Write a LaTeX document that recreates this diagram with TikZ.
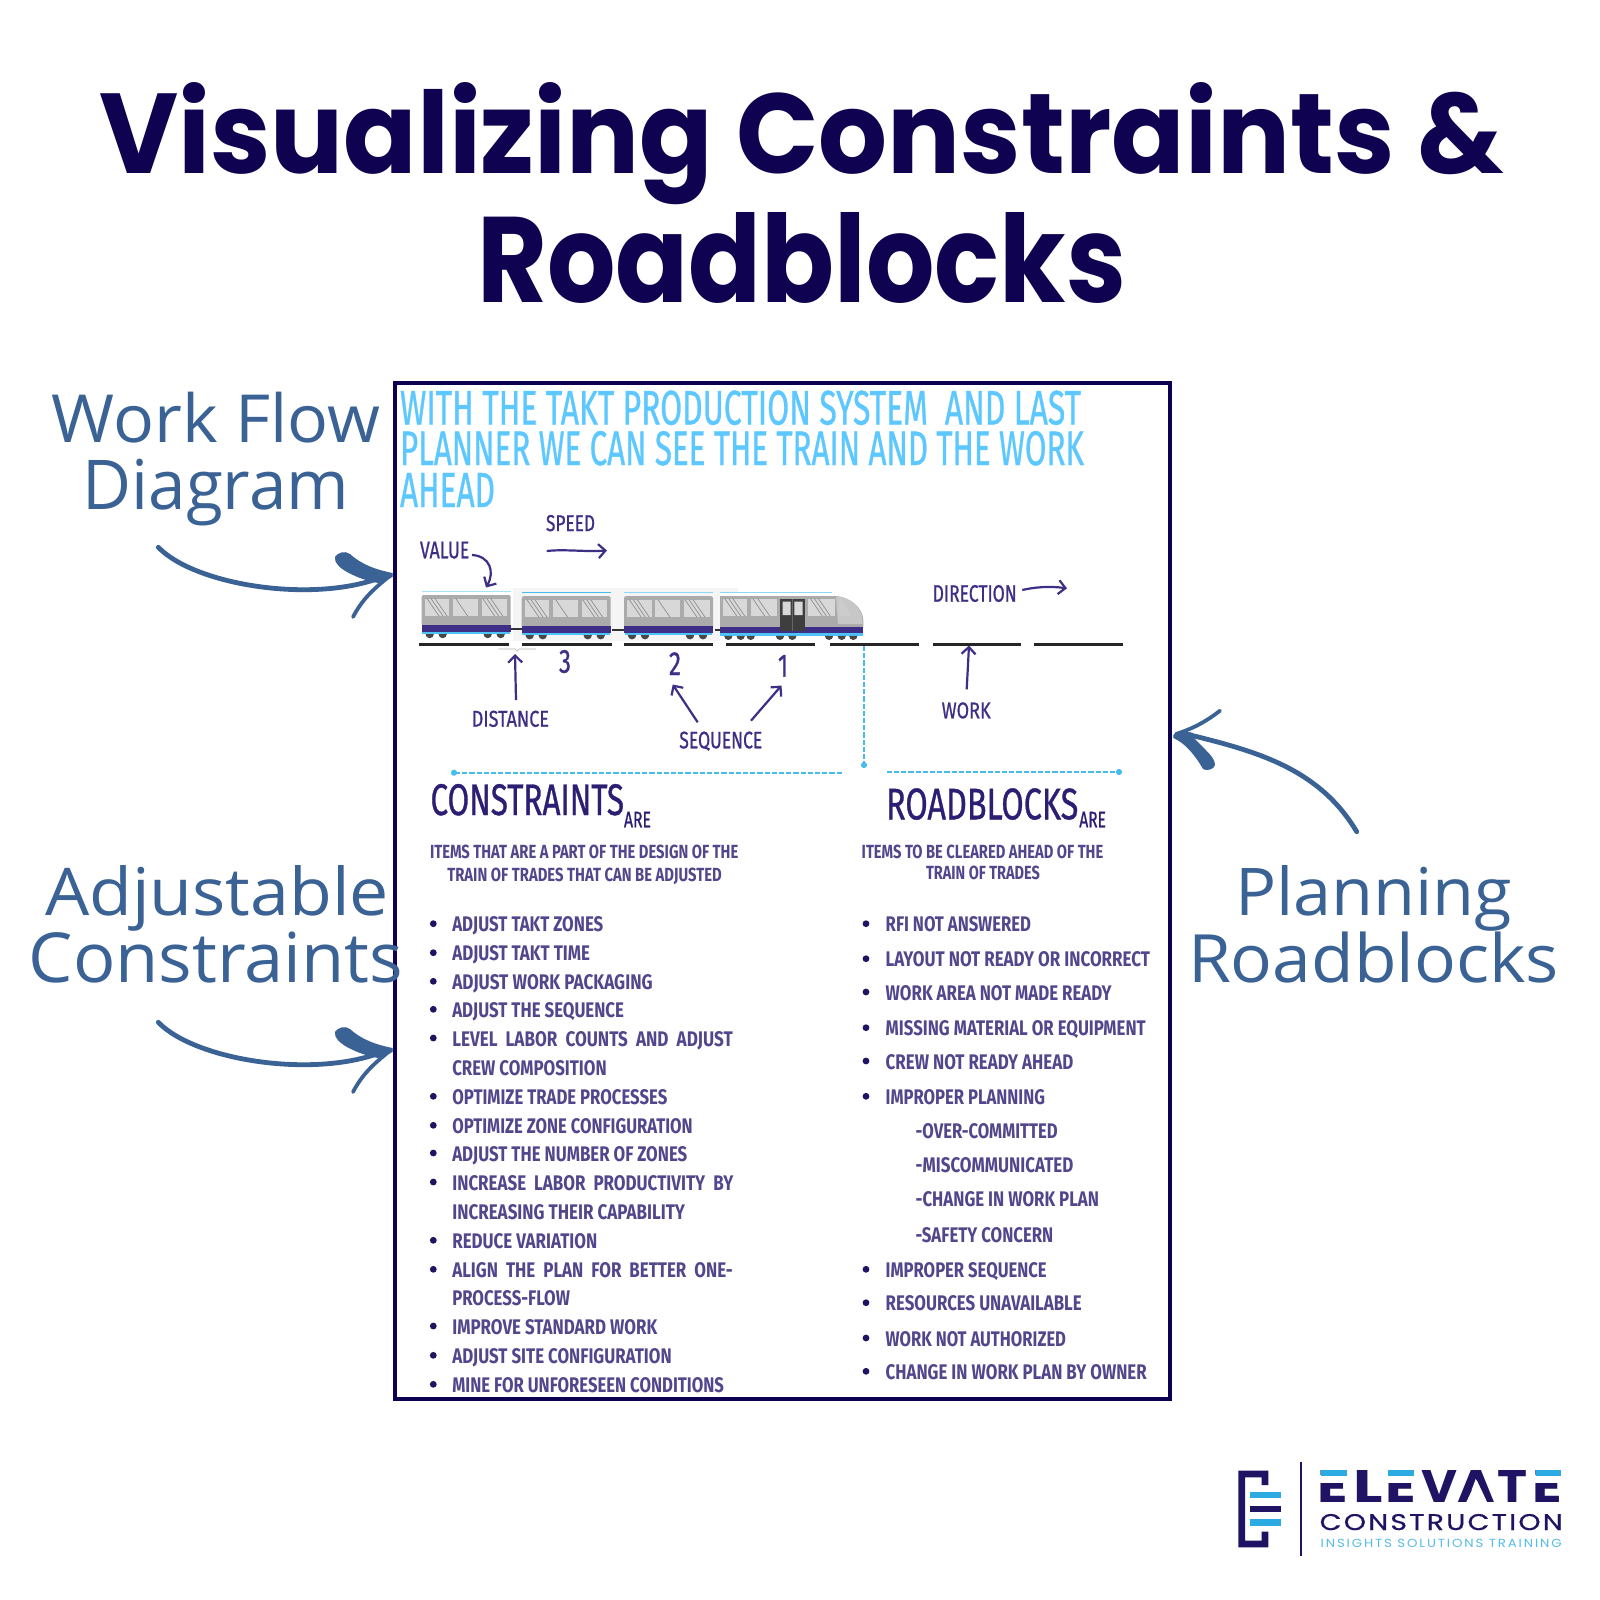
\documentclass[tikz,border=0pt]{standalone}
\usepackage{fontspec}
\usepackage{graphicx}
\usetikzlibrary{arrows.meta}
\setmainfont{Open Sans}
\newfontfamily\ttlfont{Poppins}
\newfontfamily\condfont{Fira Sans}
\newfontfamily\condmed[FakeBold=0.9]{Fira Sans}
\newfontfamily\logofont{Poppins}
\newfontfamily\logospaced[LetterSpace=8,FakeBold=0.6]{Poppins}
\newfontfamily\logowide[LetterSpace=14]{Poppins}
\definecolor{navy}{HTML}{0F0250}
\definecolor{frameblue}{HTML}{0D0050}
\definecolor{steel}{HTML}{3A6295}
\definecolor{skyhead}{HTML}{5CC8FF}
\definecolor{purp}{HTML}{3F2E85}
\definecolor{ink}{HTML}{2C1F73}
\definecolor{dotcyan}{HTML}{45BCEC}
\definecolor{logonavy}{HTML}{1F1464}
\definecolor{logocyan}{HTML}{2BABE2}
\definecolor{carbody}{HTML}{ABABAB}
\definecolor{winfill}{HTML}{D8D8D8}
\definecolor{diagc}{HTML}{8F8F8F}
\definecolor{doorc}{HTML}{3E3E3E}
\definecolor{strip}{HTML}{4FC3F7}
\tikzset{
  tbase/.style={anchor=base west,inner sep=0pt,outer sep=0pt},
  ttl/.style={tbase,font=\ttlfont\bfseries,text=navy},
  side/.style={tbase,font=\rmfamily,text=steel},
  head/.style={tbase,font=\condmed,text=skyhead},
  lst/.style={tbase,font=\condfont\bfseries,text=ink!82!white},
  big/.style={tbase,font=\condmed,text=ink},
  lab/.style={tbase,font=\condmed,text=purp},
  pa/.style={draw=purp,line width=1.1pt,-{Straight Barb[length=3.5pt,width=7pt]}},
  dotl/.style={draw=dotcyan,line width=0.9pt,dash pattern=on 2.6pt off 1pt,-{Circle[length=3pt]}},
  track/.style={draw=black!85,line width=1.7pt},
  blue/.style={draw=steel,line width=2.4pt,line cap=round},
  diag/.style={draw=diagc,line width=0.35pt},
}
\newcommand{\Tx}[7][lst]{%
  \pgfmathsetmacro{\Twid}{(#4-#3)*0.5}%
  \pgfmathsetmacro{\Thgt}{#6*0.5}%
  \node[#1] (#2) at (#3,#5) {\resizebox{\Twid pt}{\Thgt pt}{#7}};}
\newcommand{\Li}[4]{%
  \fill[logonavy] (433.3,#3-8) circle (3.4);
  \Tx{#1}{452.3}{#2}{#3}{15}{#4}}
\newcommand{\Lc}[4]{\Tx{#1}{452.3}{#2}{#3}{15}{#4}}
\newcommand{\Ri}[4]{%
  \fill[logonavy] (866,#3-8) circle (3.4);
  \Tx{#1}{885.7}{#2}{#3}{15}{#4}}
\newcommand{\Win}[3]{%
  \fill[winfill] (#1,598.5) rectangle (#2,616);
  \begin{scope}
    \clip (#1,598.5) rectangle (#2,616);
    \foreach \o in {#3}{\draw[diag] (#1+\o,598.5) -- (#1+\o+12,616);}
  \end{scope}}
\newcommand{\Wheel}[1]{\fill[black!72] (#1-4.2,634) arc[start angle=180,end angle=0,radius=4.2] -- cycle;}
\newcommand{\CarBox}[3]{%
  \begin{scope}[shift={(#1,#2)}]
    \fill[#3] (0,590.7) rectangle (89,592);
    \fill[carbody,rounded corners=1pt] (0,595) rectangle (89,626);
    \fill[purp] (0,625) rectangle (89,631.5);
    \fill[strip] (0.7,631.5) rectangle (88.3,634);
    \Win{3.3}{27.7}{2,6,10}
    \Win{31}{56}{3}
    \Win{60}{85.7}{1,5,9}
    \foreach \w in {8,21,66,79}{\Wheel{\w}}
  \end{scope}}
\newcommand{\SideArrow}[2]{%
  \begin{scope}[yshift=#2]
    \coordinate (#1t) at (158.3,547.3);
    \coordinate (#1e) at (378,578.5);
    \draw[blue] (#1t) .. controls (195,585) and (310,603) .. (#1e);
    \fill[steel] (392.7,573) .. controls (377,570) and (362,565) .. (350,554)
      .. controls (345,550) and (337,553) .. (335,557)
      .. controls (334,563) and (340,568) .. (347,572)
      .. controls (358,578) and (368,581) .. (378,583) -- (392.7,577) -- cycle;
    \draw[blue,line width=1.9pt] (391,575) .. controls (372,590) and (362,600) .. (353,617);
  \end{scope}}
\begin{document}
\begin{tikzpicture}[x=0.5pt,y=-0.5pt]
\useasboundingbox (0,0) rectangle (1600,1600);
\fill[white] (0,0) rectangle (1600,1600);
% title
\Tx[ttl]{t1}{99}{1504}{174}{91}{Visualizing Constraints \&}
\Tx[ttl]{t2}{477}{1126}{302}{90}{Roadblocks}
% frame
\draw[frameblue,line width=2pt] (395,383) rectangle (1170,1399);
% side labels
\Tx[side]{s1}{51.7}{380.5}{442.7}{50.4}{Work Flow}
\Tx[side]{s2}{82.5}{349}{509}{50.4}{Diagram}
\Tx[side]{s3}{45}{389}{915.7}{50}{Adjustable}
\Tx[side]{s4}{28.7}{403}{982.3}{50.6}{Constraints}
\Tx[side]{s5}{1235}{1512}{915.7}{50}{Planning}
\Tx[side]{s6}{1188}{1559}{982.3}{50.6}{Roadblocks}
% blue arrows
\SideArrow{a}{0pt}
\SideArrow{b}{-237.5pt}
\coordinate (ct) at (1356.7,831.7);
\coordinate (ce) at (1190,735);
\draw[blue] (ct) .. controls (1320,770) and (1260,752) .. (ce);
\fill[steel] (1173.3,735) .. controls (1176,730) and (1185,731) .. (1193,733) -- (1193,737)
  .. controls (1205,750) and (1215,757) .. (1215,765)
  .. controls (1214,770) and (1206,771) .. (1203,769)
  .. controls (1195,755) and (1185,743) .. (1173.3,738) -- cycle;
\draw[blue,line width=1.9pt] (1176,734) .. controls (1195,728) and (1208,720) .. (1220,710.7);
% sky heading
\Tx[head]{h1}{400}{1081}{424.5}{34}{WITH THE TAKT PRODUCTION SYSTEM\ \ AND LAST}
\Tx[head]{h2}{400}{1084}{465}{34}{PLANNER WE CAN SEE THE TRAIN AND THE WORK}
\Tx[head]{h3}{400}{495}{507}{34}{AHEAD}
% train
\fill[black!4] (513,588) rectangle (720,641);
\fill[black!4] (720,588) rectangle (738,592);
\draw[black!80,line width=0.7pt] (510,629) -- (522,629) (612,630) -- (624,630) (715,630) -- (720,630);
\CarBox{421.7}{0}{cyan!35!white}
\CarBox{521.7}{1.2}{dotcyan}
\CarBox{624}{1.2}{cyan!45!white}
% front car
\fill[cyan!45!white] (720,591.5) rectangle (831.7,593);
\fill[carbody] (720,596) -- (836,596) .. controls (850,597) and (863,608) .. (863.3,620) -- (863.3,627) -- (720,627) -- cycle;
\fill[black!22] (836,596.5) .. controls (850,597) and (862,608) .. (862.5,620) -- (862.5,624) -- (838,624) -- cycle;
\fill[purp] (720,627) rectangle (863.3,633);
\fill[strip] (720,633) rectangle (863.3,635.5);
\Win{722.7}{747.3}{2,6,10}
\Win{750.7}{776.7}{2,7}
\Win{808.3}{835}{2,6,10}
\fill[white!80!black] (838.5,600) -- (842,600) -- (851,616) -- (838.5,616) -- cycle;
\fill[doorc] (780,599) rectangle (805,631);
\fill[winfill] (782.7,601.7) rectangle (790.7,615) (794.3,601.7) rectangle (802.7,615);
\draw[black!60,line width=0.3pt] (792.5,599) -- (792.5,631);
\begin{scope}[shift={(0,1.8)}]
\foreach \w in {728.3,740.7,750.7,780,792.3,829,841.7,853.3}{\Wheel{\w}}
\end{scope}
% track
\foreach \a/\b in {419.3/509,522.3/611.7,624/713.3,726/815,830/919,932.7/1021.3,1034.3/1123.3}{\draw[track] (\a,644.5) -- (\b,644.5);}
\draw[black!30,line width=0.3pt] (498.3,649) -- (515,649) -- (517,651) -- (519,649) -- (536,649);
% numbers
\Tx[lab]{n3}{559}{571}{672.7}{22.7}{3}
\Tx[lab]{n2}{669}{681}{675}{22.7}{2}
\Tx[lab]{n1}{778}{788}{676.7}{21.7}{1}
% labels
\Tx[lab]{speed}{546}{595}{531}{16}{SPEED}
\Tx[lab]{value}{420}{469.3}{558.3}{16.7}{VALUE}
\Tx[lab]{dist}{471.7}{549}{726.7}{16}{DISTANCE}
\Tx[lab]{seq}{679.3}{762.3}{748.3}{16.7}{SEQUENCE}
\Tx[lab]{dir}{932.7}{1016.7}{601.7}{16.7}{DIRECTION}
\Tx[lab]{work}{941.7}{990.7}{718.3}{16}{WORK}
% purple arrows
\coordinate (spa) at (546.7,551);
\coordinate (spb) at (607,550.5);
\draw[pa] (spa) .. controls (565,549) and (585,552) .. (spb);
\coordinate (vaa) at (472,555);
\coordinate (vab) at (486,587.5);
\draw[pa] (vaa) .. controls (490,556) and (495,572) .. (vab);
\coordinate (dia) at (516,700);
\coordinate (dib) at (515,654);
\draw[pa] (dia) -- (dib);
\coordinate (sq0) at (697.7,722.3);
\coordinate (sq1) at (672.7,684.5);
\coordinate (sq2) at (751,720.7);
\coordinate (sq3) at (781.5,685.5);
\draw[pa] (sq0) -- (sq1);
\draw[pa] (sq2) -- (sq3);
\coordinate (dra) at (1022.3,590);
\coordinate (drb) at (1067,588.3);
\draw[pa] (dra) .. controls (1035,587) and (1050,586) .. (drb);
\coordinate (woa) at (966.7,689.3);
\coordinate (wob) at (969,645.5);
\draw[pa] (woa) -- (wob);
% cyan dotted
\coordinate (dv0) at (864,646);
\coordinate (dv1) at (864,768);
\coordinate (dl0) at (841.7,772.7);
\coordinate (dl1) at (451,772.7);
\coordinate (dr0) at (886.7,772);
\coordinate (dr1) at (1122,772);
\draw[dotl] (dv0) -- (dv1);
\draw[dotl] (dl0) -- (dl1);
\draw[dotl] (dr0) -- (dr1);
% left column
\Tx[big]{c1}{430.5}{624}{815}{31}{CONSTRAINTS}
\Tx[big]{c2}{624}{651}{827.3}{15.5}{ARE}
\Tx{c3}{430}{738.3}{858.3}{13.5}{ITEMS THAT ARE A PART OF THE DESIGN OF THE}
\Tx{c4}{447.3}{721.7}{881.7}{13.5}{TRAIN OF TRADES THAT CAN BE ADJUSTED}
\Li{l01}{603.3}{931.7}{ADJUST TAKT ZONES}
\Li{l02}{590}{960.7}{ADJUST TAKT TIME}
\Li{l03}{652.7}{989.3}{ADJUST WORK PACKAGING}
\Li{l04}{624}{1017.3}{ADJUST THE SEQUENCE}
\Li{l05}{732.7}{1046}{LEVEL\ \ LABOR\ \ COUNTS\ \ AND\ \ ADJUST}
\Lc{l06}{606.7}{1075}{CREW COMPOSITION}
\Li{l07}{667.3}{1104.3}{OPTIMIZE TRADE PROCESSES}
\Li{l08}{692.7}{1133.3}{OPTIMIZE ZONE CONFIGURATION}
\Li{l09}{687.3}{1161}{ADJUST THE NUMBER OF ZONES}
\Li{l10}{733.3}{1190}{INCREASE\ \ LABOR\ \ PRODUCTIVITY\ \ BY}
\Lc{l11}{685}{1219}{INCREASING THEIR CAPABILITY}
\Li{l12}{597.3}{1248.3}{REDUCE VARIATION}
\Li{l13}{732.7}{1277.3}{ALIGN\ \ THE\ \ PLAN\ \ FOR\ \ BETTER\ \ ONE-}
\Lc{l14}{570}{1305}{PROCESS-FLOW}
\Li{l15}{657.3}{1334}{IMPROVE STANDARD WORK}
\Li{l16}{671.7}{1363.3}{ADJUST SITE CONFIGURATION}
\Li{l17}{724}{1392.3}{MINE FOR UNFORESEEN CONDITIONS}
% right column
\Tx[big]{r1}{886}{1078.3}{819.3}{31}{ROADBLOCKS}
\Tx[big]{r2}{1079.3}{1106}{827.3}{15.5}{ARE}
\Tx{r3}{861.7}{1103.3}{858.3}{13.5}{ITEMS TO BE CLEARED AHEAD OF THE}
\Tx{r4}{926}{1040}{879.3}{13.5}{TRAIN OF TRADES}
\Ri{p01}{1031}{931.7}{RFI NOT ANSWERED}
\Ri{p02}{1150}{966.7}{LAYOUT NOT READY OR INCORRECT}
\Ri{p03}{1111.7}{1000}{WORK AREA NOT MADE READY}
\Ri{p04}{1145.7}{1035.7}{MISSING MATERIAL OR EQUIPMENT}
\Ri{p05}{1073.3}{1069}{CREW NOT READY AHEAD}
\Ri{p06}{1045}{1104.3}{IMPROPER PLANNING}
\Tx{p07}{915.7}{1057.7}{1138.3}{15}{-OVER-COMMITTED}
\Tx{p08}{915.7}{1073.3}{1172.7}{15}{-MISCOMMUNICATED}
\Tx{p09}{915.7}{1099}{1206.7}{15}{-CHANGE IN WORK PLAN}
\Tx{p10}{915.7}{1053.3}{1242.3}{15}{-SAFETY CONCERN}
\Ri{p11}{1046.7}{1277.3}{IMPROPER SEQUENCE}
\Ri{p12}{1081.7}{1310.7}{RESOURCES UNAVAILABLE}
\Ri{p13}{1066}{1346}{WORK NOT AUTHORIZED}
\Ri{p14}{1146.7}{1379.3}{CHANGE IN WORK PLAN BY OWNER}
% logo
\fill[logonavy] (1238.3,1470.7) -- (1268.3,1470.7) -- (1268.3,1485) -- (1261.7,1485) -- (1261.7,1477.3) -- (1245,1477.3) -- (1245,1540.7) -- (1261.7,1540.7) -- (1261.7,1531.7) -- (1268.3,1531.7) -- (1268.3,1547.3) -- (1238.3,1547.3) -- cycle;
\fill[logocyan] (1250,1491.7) rectangle (1281,1498.3);
\fill[logonavy] (1250,1505.7) rectangle (1281,1512.3);
\fill[logocyan] (1250,1519.3) rectangle (1281,1526);
\draw[logonavy,line width=1pt] (1301,1461.7) -- (1301,1556);
\tikzset{lg/.style={tbase,font=\logofont\bfseries,text=logonavy}}
\Tx[lg]{e1}{1317.5}{1348}{1502.7}{32}{E}
\Tx[lg]{e2}{1353}{1382.5}{1502.7}{32}{L}
\Tx[lg]{e3}{1385}{1415.6}{1502.7}{32}{E}
\Tx[lg]{e4}{1421.2}{1457.2}{1502.7}{32}{V}
\Tx[lg]{e5}{1457.8}{1495.5}{1502.7}{32}{A}
\Tx[lg]{e6}{1497.5}{1527.5}{1502.7}{32}{T}
\Tx[lg]{e7}{1532.7}{1562.3}{1502.7}{32}{E}
% logo E tops and open A
\foreach \a/\b in {1320.7/1346.7,1388.3/1414.3,1536/1561}{
  \fill[white] (\a-2,1475) rectangle (\b+2,1483);
  \fill[logocyan] (\a,1470.4) rectangle (\b,1476);
}
\fill[white] (1476.7,1480) -- (1488,1504) -- (1465.4,1504) -- cycle;
\Tx[tbase,font=\logospaced,text=logonavy]{e8}{1319.7}{1562.7}{1530}{16}{CONSTRUCTION}
\Tx[tbase,font=\logowide,text=logocyan!80!white]{e9}{1320.7}{1561.7}{1547.3}{8.3}{INSIGHTS SOLUTIONS TRAINING}
\end{tikzpicture}
\end{document}
